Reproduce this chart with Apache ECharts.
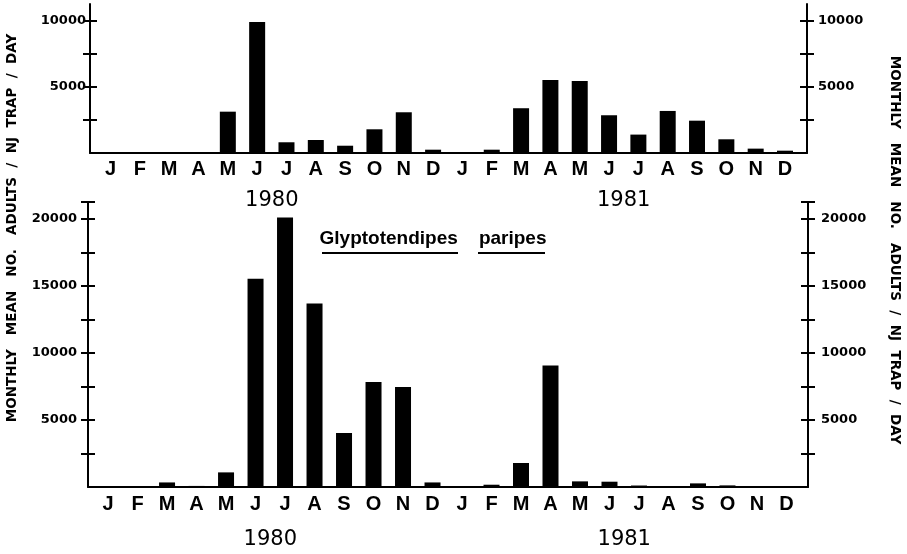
<!DOCTYPE html>
<html>
<head>
<meta charset="utf-8">
<script src="https://cdn.jsdelivr.net/npm/echarts@6/dist/echarts.min.js"></script>
<style>
html,body{margin:0;padding:0;background:#fff;}
#chart{width:907px;height:554px;}
</style>
</head>
<body>
<div id="chart"></div>
<script>
// ---- data ----
var months = ['J','F','M','A','M','J','J','A','S','O','N','D','J','F','M','A','M','J','J','A','S','O','N','D'];
var years = ['1980', '1981'];
var yearCenters = [5.5, 17.5];
// top panel (scale 0 - 10000)
var topValues = [15, 15, 15, 15, 3120, 9900, 810, 980, 550, 1790, 3075, 250,
                 30, 250, 3380, 5520, 5440, 2850, 1390, 3175, 2440, 1035, 330, 175];
// bottom panel (scale 0 - 20000)
var bottomValues = [20, 20, 340, 80, 1090, 15520, 20090, 13680, 4020, 7820, 7450, 340,
                    20, 170, 1790, 9060, 420, 395, 110, 60, 270, 120, 30, 30];
var topTicks = [2500, 5000, 7500, 10000];
var topLabels = [5000, 10000];
var bottomTicks = [2500, 5000, 7500, 10000, 12500, 15000, 17500, 20000, 21250];
var bottomLabels = [5000, 10000, 15000, 20000];
var yTitle = 'MONTHLY   MEAN   NO.   ADULTS  /  NJ  TRAP  /  DAY';
var chartTitle = 'Glyptotendipes    paripes';

// ---- styling ----
var BLACK = '#000';
var monthFont = {color: BLACK, fontFamily: "'Liberation Sans Narrow','Liberation Sans',Arial,sans-serif", fontWeight: 'bold', fontSize: 20};
var yearFont = {color: BLACK, fontFamily: "'DejaVu Sans',sans-serif", fontWeight: 'normal', fontSize: 21};
var tickFont = {color: BLACK, fontFamily: "'DejaVu Sans',sans-serif", fontWeight: 'bold', fontSize: 13};
var idx = months.map(function (m, i) { return i; });

function xAxes(g, monthMargin, yearMargin, minX, maxX) {
  return [
    {type: 'value', gridIndex: g, min: minX, max: maxX, position: 'bottom',
     axisLine: {show: true, onZero: false, lineStyle: {color: BLACK, width: 2}},
     axisTick: {show: false}, splitLine: {show: false},
     axisLabel: Object.assign({customValues: idx, margin: monthMargin,
       formatter: function (v) { return months[Math.round(v)]; }}, monthFont)},
    {type: 'value', gridIndex: g, min: minX, max: maxX, position: 'bottom',
     axisLine: {show: false}, axisTick: {show: false}, splitLine: {show: false},
     axisLabel: Object.assign({customValues: yearCenters, margin: yearMargin,
       formatter: function (v) { return years[yearCenters.indexOf(v)]; }}, yearFont)}
  ];
}
function yAxes(g, maxV, ticks, labels, leftMargin, rightMargin) {
  var base = function (pos, inside, showLine, showLabel, margin) {
    return {type: 'value', gridIndex: g, min: 0, max: maxV, position: pos,
      axisLine: {show: showLine, onZero: false, lineStyle: {color: BLACK, width: 2}},
      axisTick: {show: true, inside: inside, length: 7, customValues: ticks, lineStyle: {color: BLACK, width: 2}},
      splitLine: {show: false},
      axisLabel: Object.assign({show: showLabel, customValues: labels, margin: margin,
        formatter: function (v) { return String(v); }}, tickFont)};
  };
  return [
    base('left', false, true, true, leftMargin),
    base('left', true, false, false, 0),
    base('right', false, true, true, rightMargin),
    base('right', true, false, false, 0)
  ];
}

var option = {
  backgroundColor: '#fff',
  animation: false,
  grid: [
    {left: 90, right: 100, top: 4, height: 149},
    {left: 88, right: 99, top: 202, height: 285}
  ],
  xAxis: [].concat(xAxes(0, 6, 37, -0.7, 23.75), xAxes(1, 7, 42, -0.68, 23.73)),
  yAxis: [].concat(yAxes(0, 11250, topTicks, topLabels, 4, 11), yAxes(1, 21250, bottomTicks, bottomLabels, 11, 13)),
  series: [
    {type: 'bar', xAxisIndex: 0, yAxisIndex: 0, barWidth: 16,
     itemStyle: {color: BLACK}, data: topValues.map(function (v, i) { return [i, v]; })},
    {type: 'bar', xAxisIndex: 2, yAxisIndex: 4, barWidth: 16,
     itemStyle: {color: BLACK}, data: bottomValues.map(function (v, i) { return [i, v]; })}
  ],
  graphic: [
    {type: 'text', x: 12, y: 228, rotation: Math.PI / 2,
     style: {text: yTitle, fill: BLACK, font: "bold 13.5px 'DejaVu Sans', sans-serif", align: 'center', verticalAlign: 'middle'}},
    {type: 'text', x: 894, y: 250, rotation: -Math.PI / 2,
     style: {text: yTitle, fill: BLACK, font: "bold 13.5px 'DejaVu Sans', sans-serif", align: 'center', verticalAlign: 'middle'}},
    {type: 'text', x: 433, y: 239,
     style: {text: chartTitle, fill: BLACK, font: "bold 19px 'Liberation Sans', Arial, sans-serif", align: 'center', verticalAlign: 'middle'}},
    {type: 'line', shape: {x1: 322, y1: 253, x2: 458, y2: 253}, style: {stroke: BLACK, lineWidth: 2}},
    {type: 'line', shape: {x1: 478, y1: 253, x2: 545, y2: 253}, style: {stroke: BLACK, lineWidth: 2}}
  ]
};
var chart = echarts.init(document.getElementById('chart'), null, {renderer: 'canvas'});
chart.setOption(option);
</script>
</body>
</html>
